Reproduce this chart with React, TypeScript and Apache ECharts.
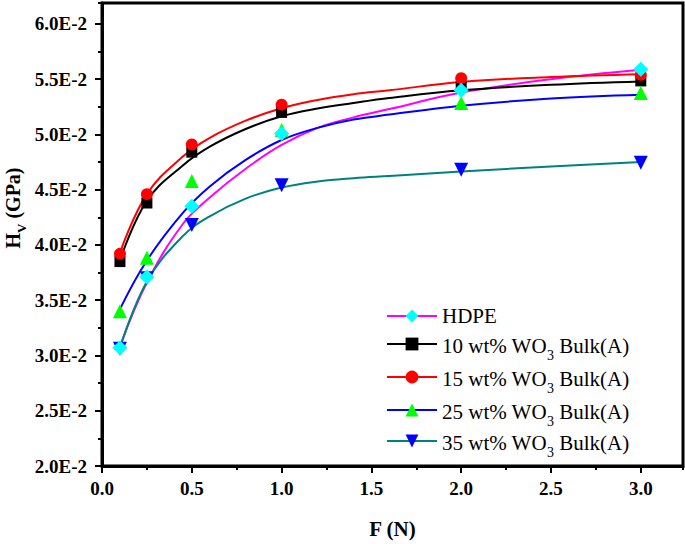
import React, { useEffect, useRef } from 'react';
import * as echarts from 'echarts';

// Measured points: load F (N) and Vickers hardness Hv (GPa)
const forceN = [0.1, 0.25, 0.5, 1.0, 2.0, 3.0];
const hvHdpe = [0.0307, 0.0371, 0.0435, 0.0501, 0.054, 0.0559];
const hvWt10 = [0.0385, 0.0438, 0.0484, 0.052, 0.05435, 0.05485];
const hvWt15 = [0.0392, 0.0446, 0.0491, 0.0527, 0.0551, 0.0554];
const hvWt25 = [0.034, 0.03885, 0.0458, 0.0504, 0.05285, 0.05375];
const hvWt35 = [0.0306, 0.037, 0.0418, 0.0454, 0.0468, 0.04745];

// Fitted curves
const fitF = [0.1, 0.25, 0.45, 0.6, 0.8, 1.0, 1.2, 1.4, 1.6, 2.0, 2.5, 3.0];
const fitHdpe = [0.0308, 0.0366, 0.0419, 0.0443, 0.0469, 0.04905, 0.0506, 0.05155, 0.0523, 0.0538, 0.055, 0.05585];
const fitWt10 = [0.0386, 0.044, 0.0472, 0.0489, 0.0505, 0.05165, 0.05235, 0.05285, 0.0533, 0.054, 0.0545, 0.0548];
const fitWt15 = [0.0393, 0.0446, 0.048, 0.0497, 0.05125, 0.05238, 0.05313, 0.05365, 0.054, 0.05475, 0.0552, 0.05545];
const fitWt25 = [0.0342, 0.0386, 0.0429, 0.0453, 0.0477, 0.0495, 0.0506, 0.05135, 0.0518, 0.0526, 0.05325, 0.0536];
const fitWt35 = [0.0307, 0.0367, 0.0408, 0.0426, 0.0442, 0.0452, 0.04575, 0.04605, 0.04625, 0.04665, 0.0471, 0.0475];

const seriesNames = [
  'HDPE',
  '10 wt% WO3 Bulk(A)',
  '15 wt% WO3 Bulk(A)',
  '25 wt% WO3 Bulk(A)',
  '35 wt% WO3 Bulk(A)',
];

const xTitle = 'F (N)';
const yTitleMain = 'H';
const yTitleSub = 'V';
const yTitleUnit = ' (GPa)';

const serif = '"Liberation Serif", "Times New Roman", serif';

export default function App() {
  const ref = useRef<HTMLDivElement>(null);

  useEffect(() => {
    if (!ref.current) return;
    const chart = echarts.init(ref.current, null, { renderer: 'svg' });

    const defs = [
      { name: seriesNames[0], pts: hvHdpe, fit: fitHdpe, line: '#ff00ff', fill: '#00ffff', symbol: 'diamond', size: 15, rot: 0, z: 9 },
      { name: seriesNames[1], pts: hvWt10, fit: fitWt10, line: '#000000', fill: '#000000', symbol: 'rect', size: 11, rot: 0, z: 5 },
      { name: seriesNames[2], pts: hvWt15, fit: fitWt15, line: '#ff0000', fill: '#ff0000', symbol: 'circle', size: 12, rot: 0, z: 6 },
      { name: seriesNames[3], pts: hvWt25, fit: fitWt25, line: '#0000ff', fill: '#00ff00', symbol: 'triangle', size: 14, rot: 0, z: 7 },
      { name: seriesNames[4], pts: hvWt35, fit: fitWt35, line: '#008080', fill: '#0000ff', symbol: 'triangle', size: 14, rot: 180, z: 8 },
    ];

    const series: any[] = [];
    defs.forEach((d) => {
      series.push({
        type: 'line',
        xAxisIndex: 0,
        yAxisIndex: 0,
        data: fitF.map((x, i) => [x, d.fit[i]]),
        smooth: 0.4,
        symbol: 'none',
        showSymbol: false,
        silent: true,
        lineStyle: { color: d.line, width: 2 },
        z: 2,
      });
    });
    defs.forEach((d) => {
      series.push({
        type: 'line',
        name: d.name,
        xAxisIndex: 0,
        yAxisIndex: 0,
        data: forceN.map((x, i) => [x, d.pts[i]]),
        symbol: d.symbol,
        symbolSize: d.size,
        symbolRotate: d.rot,
        showSymbol: true,
        showAllSymbol: true,
        silent: true,
        itemStyle: { color: d.fill, borderWidth: 0 },
        lineStyle: { color: d.line, width: 2, opacity: 0 },
        z: d.z,
      });
    });

    const rich = {
      h: { fontFamily: serif, fontSize: 21, lineHeight: 22, color: '#000', verticalAlign: 'top' },
      n: { fontFamily: serif, fontSize: 21, lineHeight: 22, color: '#000', padding: [8, 0, 0, 0], verticalAlign: 'top' },
      s: { fontFamily: serif, fontSize: 14, lineHeight: 14, color: '#000', padding: [21, 0, 0, 0], verticalAlign: 'top' },
    };

    const legendIconY = [317, 344, 377, 410, 441];
    const legends = defs.map((d, i) => ({
      orient: 'vertical',
      left: 386,
      top: i === 0 ? legendIconY[i] - 12 : legendIconY[i] - 17,
      padding: 0,
      itemWidth: 50,
      itemHeight: 16,
      selectedMode: false,
      textStyle: {
        fontFamily: serif,
        fontSize: 21,
        color: '#000',
        rich,
        padding: i === 0 ? 0 : [0, 0, 12, 0],
      },
      formatter: (name: string) => {
        const parts = name.split('WO3');
        if (parts.length < 2) return `{h|${name}}`;
        return `{n|${parts[0]}WO}{s|3}{n|${parts[1]}}`;
      },
      data: [
        {
          name: d.name,
          lineStyle: { color: d.line, width: 2, opacity: 1 },
          itemStyle: { color: d.fill },
        },
      ],
    }));

    const tickLabel = {
      fontFamily: serif,
      fontWeight: 'bold',
      fontSize: 19,
      color: '#000',
    };

    const option: any = {
      animation: false,
      backgroundColor: '#ffffff',
      grid: {
        left: 102,
        right: 2,
        top: 3,
        bottom: 74,
        show: true,
        borderColor: '#000',
        borderWidth: 3,
        backgroundColor: 'transparent',
      },
      legend: legends,
      xAxis: [
        {
          type: 'value',
          min: 0,
          max: 3.235,
          interval: 0.25,
          position: 'bottom',
          axisLine: { show: true, onZero: false, lineStyle: { color: '#000', width: 3 } },
          axisTick: { show: true, length: 4, lineStyle: { color: '#000', width: 2 } },
          axisLabel: { show: false },
          splitLine: { show: false },
        },
        {
          type: 'value',
          min: 0,
          max: 3.235,
          interval: 0.5,
          position: 'bottom',
          axisLine: { show: false, onZero: false },
          axisTick: { show: true, length: 7, lineStyle: { color: '#000', width: 2 } },
          axisLabel: {
            ...tickLabel,
            margin: 13,
            showMaxLabel: false,
            formatter: (v: number) => v.toFixed(1),
          },
          splitLine: { show: false },
          name: xTitle,
          nameLocation: 'middle',
          nameGap: 52,
          nameTextStyle: { fontFamily: serif, fontWeight: 'bold', fontSize: 21, color: '#000' },
        },
      ],
      yAxis: [
        {
          type: 'value',
          min: 0.02,
          max: 0.0619,
          interval: 0.0025,
          position: 'left',
          axisLine: { show: true, onZero: false, lineStyle: { color: '#000', width: 3 } },
          axisTick: { show: true, length: 4, lineStyle: { color: '#000', width: 2 } },
          axisLabel: { show: false },
          splitLine: { show: false },
        },
        {
          type: 'value',
          min: 0.02,
          max: 0.0619,
          interval: 0.005,
          position: 'left',
          axisLine: { show: false, onZero: false },
          axisTick: { show: true, length: 7, lineStyle: { color: '#000', width: 2 } },
          axisLabel: {
            ...tickLabel,
            margin: 15,
            showMaxLabel: false,
            formatter: (v: number) => (v * 100).toFixed(1) + 'E-2',
          },
          splitLine: { show: false },
        },
      ],
      graphic: [
        {
          type: 'text',
          x: 14,
          y: 208,
          rotation: Math.PI / 2,
          style: {
            text: `{a|${yTitleMain}}{b|${yTitleSub}}{a|${yTitleUnit}}`,
            align: 'center',
            verticalAlign: 'middle',
            fill: '#000',
            rich: {
              a: { fontFamily: serif, fontWeight: 'bold', fontSize: 20, lineHeight: 22, verticalAlign: 'top', fill: '#000' },
              b: { fontFamily: serif, fontWeight: 'bold', fontSize: 13, lineHeight: 13, padding: [12, 0, 0, 0], verticalAlign: 'top', fill: '#000' },
            },
          },
        },
      ],
      series,
    };

    chart.setOption(option);
    return () => chart.dispose();
  }, []);

  return (
    <div
      ref={ref}
      style={{ position: 'absolute', left: 0, top: 0, width: 685, height: 544, background: '#fff' }}
    />
  );
}
